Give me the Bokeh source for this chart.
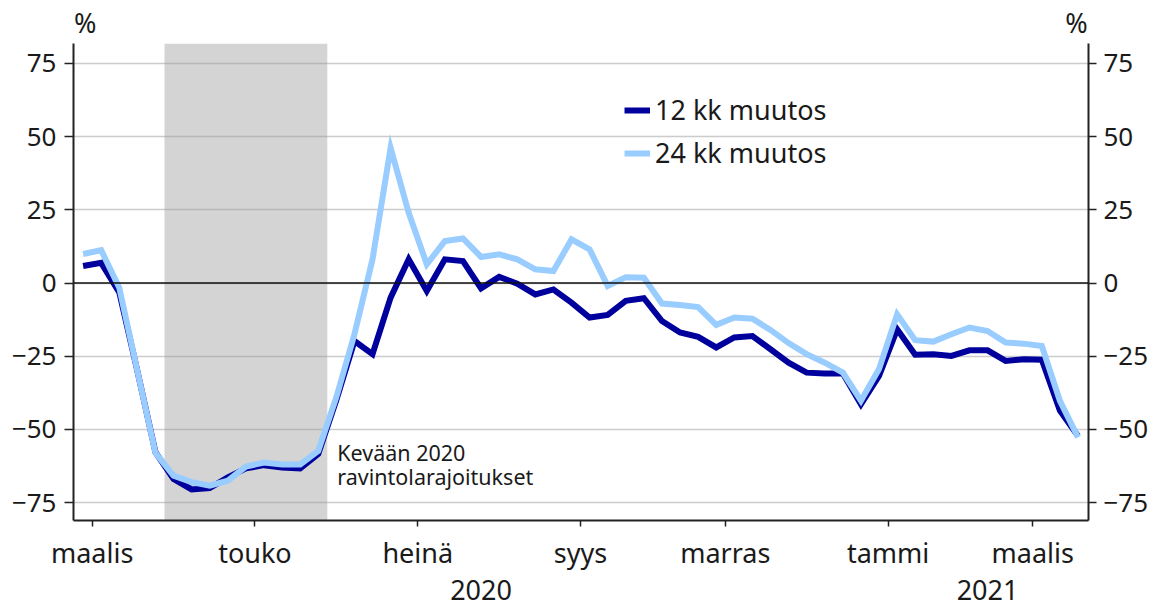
import pandas as pd
from bokeh.plotting import figure
from bokeh.models import (FixedTicker, LinearAxis, Range1d, Span, BoxAnnotation,
                          Label, Legend, LegendItem, ColumnDataSource)
from bokeh.embed import file_html
from bokeh.resources import INLINE

# ---------------- data ----------------
week_start = pd.date_range("2020-02-24", periods=56, freq="7D")  # ISO weeks 2020-W09 .. 2021-W11
change_12m = [5.8, 6.9, -3.2, -30.0, -57.8, -66.9, -70.5, -70.0, -66.4, -63.3,
              -62.2, -63.0, -63.3, -58.4, -40.0, -19.8, -24.3, -5.0, 8.1, -2.7,
              8.1, 7.5, -1.8, 2.1, -0.2, -3.9, -2.2, -6.7, -11.8, -10.9,
              -6.1, -5.2, -13.0, -16.9, -18.4, -22.0, -18.6, -18.1, -22.6, -27.2,
              -30.6, -30.9, -30.9, -41.4, -31.7, -15.8, -24.5, -24.3, -24.9, -23.0,
              -23.0, -26.6, -26.0, -26.2, -43.6, -52.2]
change_24m = [9.9, 11.2, -1.6, -30.0, -58.0, -65.8, -68.0, -69.2, -67.5, -62.7,
              -61.3, -62.0, -62.0, -57.3, -39.0, -17.5, 8.1, 46.1, 24.0, 6.4,
              14.3, 15.2, 8.9, 9.8, 8.1, 4.7, 4.1, 14.9, 11.5, -1.0,
              2.0, 1.8, -7.0, -7.5, -8.2, -14.3, -11.8, -12.2, -16.0, -20.5,
              -24.3, -27.2, -30.6, -40.2, -29.4, -10.7, -19.5, -20.0, -17.5, -15.2,
              -16.4, -20.3, -20.7, -21.5, -40.2, -52.7]
series_names = ["12 kk muutos", "24 kk muutos"]
month_names = {1: "tammi", 3: "maalis", 5: "touko", 7: "heinä", 9: "syys", 11: "marras"}
y_ticks = [-75, -50, -25, 0, 25, 50, 75]
restriction_weeks = ("2020-03-30", "2020-05-25")
annotation_lines = ["Kevään 2020", "ravintolarajoitukset"]
unit_label = "%"

# ---------------- derived ----------------
idx = list(range(len(week_start)))
source = ColumnDataSource(dict(x=idx, a=change_12m, b=change_24m))

month_ticks, month_overrides = [], {}
for i in range(1, len(week_start)):
    m = week_start[i].month
    if m != week_start[i - 1].month and m in month_names:
        pos = i - 0.5
        month_ticks.append(pos)
        month_overrides[pos] = month_names[m]

years = sorted(set(d.year for d in week_start))
year_ticks, year_overrides = [], {}
for yr in years:
    members = [i for i, d in enumerate(week_start) if d.year == yr]
    c = sum(members) / len(members)
    year_ticks.append(c)
    year_overrides[c] = str(yr)

r_start = list(week_start).index(pd.Timestamp(restriction_weeks[0])) - 0.5
r_end = list(week_start).index(pd.Timestamp(restriction_weeks[1])) + 0.5

# ---------------- styling ----------------
FONT = "Noto Sans"
TXT = "#1a1a1a"
DARK = "#00009c"
LIGHT = "#99ccff"
XMIN, XMAX = -0.53, 55.58
YMIN, YMAX = -81.1, 81.8

p = figure(width=1154, height=606, output_backend="svg", toolbar_location=None,
           x_range=Range1d(XMIN, XMAX), y_range=Range1d(YMIN, YMAX),
           min_border_left=73, min_border_right=66, min_border_top=42, min_border_bottom=86)
p.outline_line_color = None
p.background_fill_color = "white"
p.border_fill_color = "white"

# shaded period
p.add_layout(BoxAnnotation(left=r_start, right=r_end, fill_color="#d4d4d4", fill_alpha=1.0,
                           line_color=None, level="image"))

# grid
p.xgrid.visible = False
p.ygrid.ticker = FixedTicker(ticks=y_ticks)
p.ygrid.grid_line_color = "#9a9a9a"
p.ygrid.grid_line_alpha = 0.5
p.ygrid.grid_line_width = 1.5

def style_axis(ax, tick_out, size="27px"):
    ax.axis_line_color = "#222222"
    ax.axis_line_width = 2
    ax.major_tick_line_color = "#222222"
    ax.major_tick_line_width = 1.5
    ax.major_tick_in = 0
    ax.major_tick_out = tick_out
    ax.minor_tick_line_color = None
    ax.major_label_text_font = FONT
    ax.major_label_text_font_size = size
    ax.major_label_text_color = TXT

# left axis
ly = p.yaxis[0]
ly.ticker = FixedTicker(ticks=y_ticks)
style_axis(ly, 9, "26px")
ly.major_label_standoff = 8

# right axis
ry = LinearAxis(ticker=FixedTicker(ticks=y_ticks))
style_axis(ry, 8, "26px")
ry.major_label_standoff = 7
p.add_layout(ry, "right")

# x axis (months)
xa = p.xaxis[0]
xa.ticker = FixedTicker(ticks=month_ticks)
xa.major_label_overrides = month_overrides
style_axis(xa, 6)
xa.major_label_standoff = 7

# x axis (years)
ya = LinearAxis(ticker=FixedTicker(ticks=year_ticks), major_label_overrides=year_overrides)
style_axis(ya, 0)
ya.axis_line_color = None
ya.major_tick_line_color = None
ya.major_label_standoff = 6
p.add_layout(ya, "below")

# unit labels on top
unit_pos = [XMIN + 0.65, XMAX - 0.67]
ua = LinearAxis(ticker=FixedTicker(ticks=unit_pos),
                major_label_overrides={v: unit_label for v in unit_pos})
style_axis(ua, 0)
ua.axis_line_color = None
ua.major_tick_line_color = None
ua.major_label_standoff = 3
p.add_layout(ua, "above")

# zero line
p.add_layout(Span(location=0, dimension="width", line_color="#111111", line_width=1.5))

# lines
r1 = p.line("x", "a", source=source, line_color=DARK, line_width=6, line_join="miter")
r2 = p.line("x", "b", source=source, line_color=LIGHT, line_width=6, line_join="miter")

legend = Legend(items=[LegendItem(label=series_names[0], renderers=[r1]),
                       LegendItem(label=series_names[1], renderers=[r2])],
                location=(551, 349), border_line_color=None, background_fill_alpha=0,
                padding=0, margin=0, spacing=6, glyph_width=26, glyph_height=36,
                label_height=36, label_standoff=5,
                label_text_font=FONT, label_text_font_size="27px", label_text_color=TXT)
p.add_layout(legend)

# annotation
p.add_layout(Label(x=r_end, y=-58.0, x_offset=10, text=annotation_lines[0],
                   text_font=FONT, text_font_size="21.5px", text_color=TXT,
                   text_baseline="alphabetic", text_align="left"))
p.add_layout(Label(x=r_end, y=-66.2, x_offset=10, text=annotation_lines[1],
                   text_font=FONT, text_font_size="21.5px", text_color=TXT,
                   text_baseline="alphabetic", text_align="left"))

open("out.html", "w").write(file_html(p, INLINE))
